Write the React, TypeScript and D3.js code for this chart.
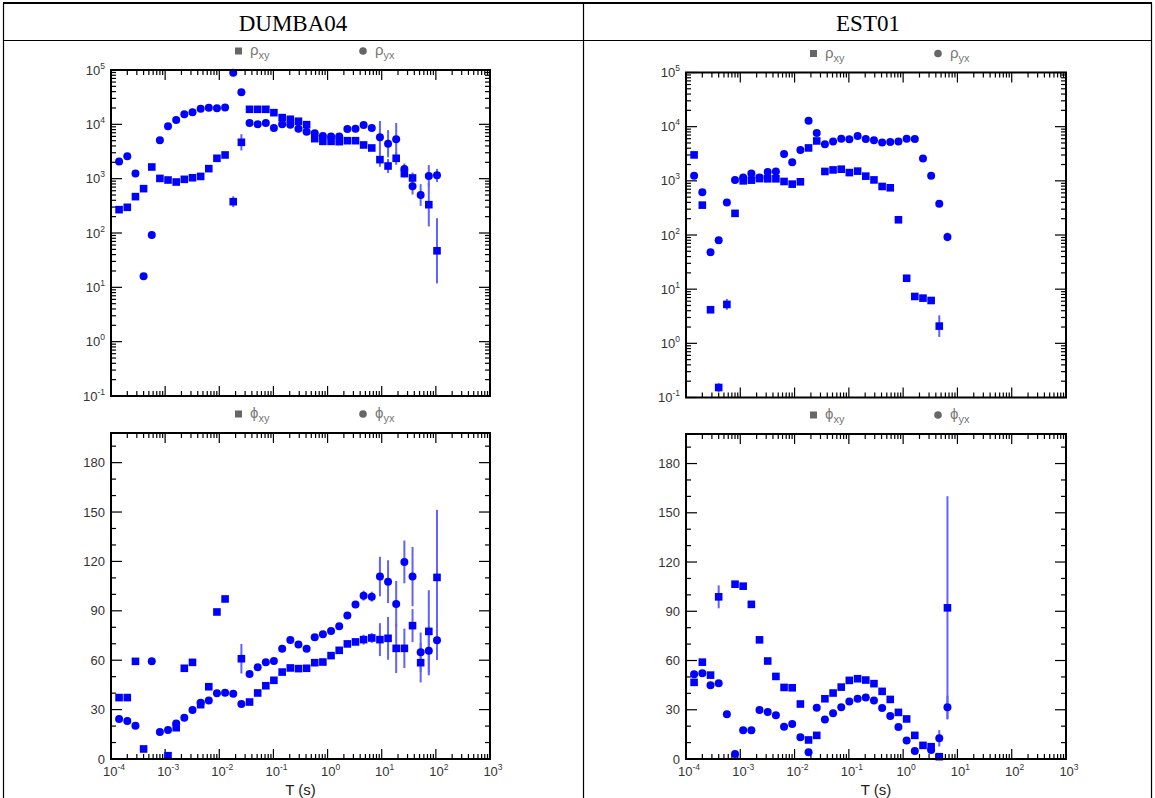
import React, { useEffect, useRef } from 'react';
import * as d3 from 'd3';

// periods (s) of the sounding, shared by both stations
const periods = [
  1.41e-4, 2.0e-4, 2.83e-4, 4.0e-4, 5.66e-4, 8.0e-4, 1.13e-3, 1.6e-3, 2.26e-3, 3.2e-3,
  4.53e-3, 6.4e-3, 9.05e-3, 1.28e-2, 1.81e-2, 2.56e-2, 3.62e-2, 5.12e-2, 7.24e-2, 0.102,
  0.145, 0.205, 0.29, 0.41, 0.579, 0.819, 1.16, 1.64, 2.32, 3.28,
  4.63, 6.55, 9.27, 13.1, 18.5, 26.2, 37.1, 52.4, 74.1, 105,
];

// DUMBA04
const dumbaRhoXy = [
  269, 297, 467, 655, 1640, 1010, 945, 868, 972, 1040,
  1100, 1530, 2370, 2730, 377, 4670, 18900, 18900, 18900, 16400,
  13300, 12400, 11400, 9860, 5450, 4860, 4860, 4800, 5000, 5000,
  4170, 3670, 2240, 1710, 2370, 1240, 1030, null, 332, 47,
];
const dumbaRhoYx = [
  2080, 2580, 1250, 16, 92, 5080, 9200, 12000, 15300, 16600,
  19400, 20300, 19700, 20500, 89000, 38800, 10600, 10000, 10600, 8570,
  10000, 9860, 8320, 7330, 6830, 6100, 6000, 6000, 8210, 8320,
  9720, 8570, 5770, 4400, 5300, 1510, 723, 500, 1120, 1150,
];
// error half-widths in decades
const dumbaRhoXyErr = [
  0, 0, 0, 0, 0, 0, 0, 0, 0, 0,
  0, 0, 0, 0, 0.1, 0.15, 0, 0, 0, 0,
  0, 0, 0, 0, 0, 0, 0, 0, 0, 0,
  0, 0, 0.13, 0.13, 0.12, 0.07, 0.1, 0, 0.4, 0.6,
];
const dumbaRhoYxErr = [
  0, 0, 0, 0, 0, 0, 0, 0, 0, 0,
  0, 0, 0, 0, 0, 0, 0, 0, 0, 0,
  0, 0, 0, 0, 0, 0, 0, 0, 0, 0,
  0.04, 0.04, 0.3, 0.25, 0.3, 0.1, 0.15, 0.2, 0.2, 0.12,
];
const dumbaPhiXy = [
  37.3, 37.3, 59.3, 6.1, null, null, 2.0, 19, 55.1, 58.7,
  33, 43.9, 89.3, 97.2, null, 60.9, 34.6, 40.1, 44.5, 47.8,
  52.8, 55.3, 54.9, 55.1, 58.5, 58.9, 62.8, 66.0, 69.9, 71.1,
  72.5, 73.5, 72.5, 73.3, 67.2, 67.2, 81.0, 58.5, 77.5, 110.3,
];
const dumbaPhiYx = [
  24.3, 23.1, 20.2, null, 59.3, 16.4, 17.6, 21.5, 25.1, 29.8,
  34.2, 35.6, 39.9, 40.3, 39.7, 33.4, 51.6, 55.7, 58.7, 59.5,
  67.0, 72.3, 69.6, 67.0, 73.9, 75.7, 77.7, 80.6, 87.1, 93.9,
  99.2, 98.6, 110.8, 107.7, 94.1, 119.7, 110.8, 64.8, 65.8, 72.1,
];
// error half-widths in degrees
const dumbaPhiXyErr = [
  0, 0, 0, 0, 0, 0, 0, 0, 0, 0,
  0, 0, 0, 0, 0, 9, 0, 0, 0, 0,
  0, 0, 0, 0, 0, 0, 0, 0, 0, 0,
  3, 3, 10, 13, 15, 12, 10, 12, 25, 41,
];
const dumbaPhiYxErr = [
  0, 0, 0, 0, 0, 0, 0, 0, 0, 0,
  0, 0, 0, 0, 0, 0, 0, 0, 0, 0,
  0, 0, 0, 0, 0, 0, 0, 0, 2, 2,
  3, 3, 12, 13, 14, 13, 18, 12, 15, 12,
];

// EST01 (first 32 periods)
const estRhoXy = [
  3010, 356, 4.17, 0.153, 5.23, 251, 1000, 1030, 1100, 1090,
  1090, 973, 869, 960, 4050, 5450, 1490, 1590, 1640, 1420,
  1510, 1220, 1040, 787, 744, 191, 15.9, 7.33, 6.83, 6.18,
  2.08, null,
];
const estRhoYx = [
  1240, 618, 48, 80, 399, 1040, 1150, 1360, 1150, 1450,
  1490, 3140, 2210, 3720, 12900, 7640, 4730, 5300, 6010, 5840,
  6730, 5930, 5600, 5080, 5230, 5300, 6010, 5930, 2580, 1240,
  377, 92,
];
const estRhoXyErr = [
  0, 0, 0, 0.08, 0.1, 0, 0, 0, 0, 0,
  0, 0, 0, 0, 0, 0, 0, 0, 0, 0,
  0, 0, 0, 0, 0, 0, 0, 0, 0, 0,
  0.2, 0,
];
const estRhoYxErr = [
  0, 0, 0, 0, 0, 0, 0, 0, 0, 0,
  0, 0, 0, 0, 0, 0, 0, 0, 0, 0,
  0, 0, 0, 0, 0, 0, 0, 0, 0, 0,
  0, 0.08,
];
const estPhiXy = [
  46.7, 59.0, 51.1, 98.8, null, 106.5, 105.3, 94.2, 72.6, 59.7,
  50.3, 43.6, 43.4, 33.5, 11.6, 14.4, 36.7, 40.2, 43.8, 47.9,
  48.9, 48.1, 45.9, 41.2, 36.3, 28.4, 24.4, 14.4, 8.3, 7.5,
  1.4, 92.1,
];
const estPhiYx = [
  51.7, 52.2, 45.0, 46.1, 27.2, 3.0, 17.5, 17.5, 29.8, 28.6,
  26.6, 19.7, 21.3, 13.2, 4.1, 31.2, 24.1, 27.8, 31.5, 35.1,
  36.7, 37.5, 35.7, 31.0, 26.2, 19.5, 11.2, 4.9, null, 5.5,
  12.6, 31.5,
];
const estPhiXyErr = [
  0, 0, 0, 7, 0, 0, 0, 0, 0, 0,
  0, 0, 0, 0, 0, 0, 0, 0, 0, 0,
  0, 0, 0, 0, 0, 0, 0, 0, 2, 2,
  0, 68,
];
const estPhiYxErr = [
  0, 0, 0, 0, 0, 0, 0, 0, 0, 0,
  0, 0, 0, 0, 0, 0, 0, 0, 0, 0,
  0, 0, 0, 0, 0, 0, 0, 0, 0, 0,
  5, 7,
];

const stations = ['DUMBA04', 'EST01'];

const W = 1155;
const H = 798;
const BLUE = '#0000ff';
const ERR = '#4747ff';

function drawPanel(svg, p) {
  const x = d3.scaleLog().domain([1e-4, 1e3]).range([p.left, p.right]);
  const y = p.kind === 'rho'
    ? d3.scaleLog().domain([0.1, 1e5]).range([p.bottom, p.top])
    : d3.scaleLinear().domain([0, 198]).range([p.bottom, p.top]);

  const g = svg.append('g');
  const isDecade = (t) => Math.abs(Math.log10(t) - Math.round(Math.log10(t))) < 1e-6;

  // x ticks, bottom and top, pointing inward
  const xt = x.ticks();
  xt.forEach((t) => {
    const len = isDecade(t) ? 10 : 5;
    const px = x(t);
    g.append('line').attr('x1', px).attr('x2', px).attr('y1', p.bottom).attr('y2', p.bottom - len)
      .attr('stroke', '#000').attr('stroke-width', 1.2);
    g.append('line').attr('x1', px).attr('x2', px).attr('y1', p.top).attr('y2', p.top + len)
      .attr('stroke', '#000').attr('stroke-width', 1.2);
  });

  // y ticks, left and right
  let yt, yMajor;
  if (p.kind === 'rho') {
    yt = y.ticks();
    yMajor = isDecade;
  } else {
    yt = d3.range(0, 191, 10);
    yMajor = (t) => t % 30 === 0;
  }
  yt.forEach((t) => {
    const len = yMajor(t) ? 11 : 5;
    const py = y(t);
    g.append('line').attr('x1', p.left).attr('x2', p.left + len).attr('y1', py).attr('y2', py)
      .attr('stroke', '#000').attr('stroke-width', 1.2);
    g.append('line').attr('x1', p.right).attr('x2', p.right - len).attr('y1', py).attr('y2', py)
      .attr('stroke', '#000').attr('stroke-width', 1.2);
  });

  // y labels
  const labFont = "'Liberation Sans', Arial, sans-serif";
  yt.filter(yMajor).forEach((t) => {
    const txt = g.append('text').attr('x', p.left - 6).attr('y', y(t) + 4.5)
      .attr('text-anchor', 'end').attr('font-family', labFont).attr('font-size', 13).attr('fill', '#333');
    if (p.kind === 'rho') {
      const e = Math.round(Math.log10(t));
      txt.append('tspan').text('10');
      txt.append('tspan').attr('dy', -6).attr('font-size', 8.5).text(e < 0 ? '-' + (-e) : String(e));
    } else {
      txt.text(String(t));
    }
  });

  // x labels, only on the phase panel
  if (p.kind === 'phi') {
    xt.filter(isDecade).forEach((t) => {
      const e = Math.round(Math.log10(t));
      const txt = g.append('text').attr('x', x(t) + 3).attr('y', 776)
        .attr('text-anchor', 'middle').attr('font-family', labFont).attr('font-size', 13).attr('fill', '#333');
      txt.append('tspan').text('10');
      txt.append('tspan').attr('dy', -6).attr('font-size', 8.5).text(e < 0 ? '-' + (-e) : String(e));
    });
    g.append('text').attr('x', (p.left + p.right) / 2).attr('y', 795).attr('text-anchor', 'middle')
      .attr('font-family', labFont).attr('font-size', 15).attr('fill', '#222').text('T (s)');
  }

  // legend
  const sym = p.kind === 'rho' ? 'ρ' : 'ϕ';
  const ly = p.top - 19;
  g.append('rect').attr('x', p.left + 124).attr('y', ly - 3.5).attr('width', 7).attr('height', 7).attr('fill', '#666');
  const t1 = g.append('text').attr('x', p.left + 139).attr('y', ly + 4)
    .attr('font-family', labFont).attr('font-size', 15).attr('fill', '#777');
  t1.append('tspan').text(sym);
  t1.append('tspan').attr('dy', 4).attr('font-size', 11).text('xy');
  g.append('circle').attr('cx', p.left + 252).attr('cy', ly).attr('r', 3.8).attr('fill', '#666');
  const t2 = g.append('text').attr('x', p.left + 264).attr('y', ly + 4)
    .attr('font-family', labFont).attr('font-size', 15).attr('fill', '#777');
  t2.append('tspan').text(sym);
  t2.append('tspan').attr('dy', 4).attr('font-size', 11).text('yx');

  // data
  const pts = (vals, errs) => vals.map((v, i) => ({ t: periods[i], v, e: errs[i] })).filter((d) => d.v != null);
  const xy = pts(p.xy, p.xyErr);
  const yx = pts(p.yx, p.yxErr);

  const lo = (d) => (p.kind === 'rho' ? d.v / Math.pow(10, d.e) : Math.max(0, d.v - d.e));
  const hi = (d) => (p.kind === 'rho' ? d.v * Math.pow(10, d.e) : d.v + d.e);

  const errG = g.append('g').attr('stroke', ERR).attr('stroke-width', 2).attr('opacity', 0.85);
  [...xy, ...yx].filter((d) => d.e > 0).forEach((d) => {
    errG.append('line').attr('x1', x(d.t)).attr('x2', x(d.t)).attr('y1', y(lo(d))).attr('y2', y(hi(d)));
  });

  g.append('g').selectAll('rect').data(xy).enter().append('rect')
    .attr('x', (d) => x(d.t) - 3.8).attr('y', (d) => y(d.v) - 3.8)
    .attr('width', 7.6).attr('height', 7.6).attr('fill', BLUE);
  g.append('g').selectAll('circle').data(yx).enter().append('circle')
    .attr('cx', (d) => x(d.t)).attr('cy', (d) => y(d.v)).attr('r', 4).attr('fill', BLUE);

  // frame
  g.append('rect').attr('x', p.left).attr('y', p.top).attr('width', p.right - p.left).attr('height', p.bottom - p.top)
    .attr('fill', 'none').attr('stroke', '#000').attr('stroke-width', 2);
}

export default function App() {
  const ref = useRef(null);

  useEffect(() => {
    const svg = d3.select(ref.current);
    svg.selectAll('*').remove();

    // table
    const tbl = svg.append('g').attr('stroke', '#000').attr('stroke-width', 1.2);
    tbl.append('line').attr('x1', 3).attr('x2', 1152).attr('y1', 3).attr('y2', 3).attr('stroke-width', 2);
    tbl.append('line').attr('x1', 3).attr('x2', 1152).attr('y1', 40.5).attr('y2', 40.5);
    tbl.append('line').attr('x1', 3.5).attr('x2', 3.5).attr('y1', 3).attr('y2', H);
    tbl.append('line').attr('x1', 583.5).attr('x2', 583.5).attr('y1', 3).attr('y2', H);
    tbl.append('line').attr('x1', 1151.5).attr('x2', 1151.5).attr('y1', 3).attr('y2', H);

    [293, 868].forEach((cx, i) => {
      svg.append('text').attr('x', cx).attr('y', 31).attr('text-anchor', 'middle')
        .attr('font-family', "'Liberation Serif', 'Times New Roman', serif").attr('font-size', 23)
        .attr('fill', '#000').text(stations[i]);
    });

    const panels = [
      { kind: 'rho', left: 111, right: 490, top: 70, bottom: 396, xy: dumbaRhoXy, yx: dumbaRhoYx, xyErr: dumbaRhoXyErr, yxErr: dumbaRhoYxErr },
      { kind: 'phi', left: 111, right: 490, top: 433, bottom: 759, xy: dumbaPhiXy, yx: dumbaPhiYx, xyErr: dumbaPhiXyErr, yxErr: dumbaPhiYxErr },
      { kind: 'rho', left: 686, right: 1066, top: 72.5, bottom: 397.5, xy: estRhoXy, yx: estRhoYx, xyErr: estRhoXyErr, yxErr: estRhoYxErr },
      { kind: 'phi', left: 686, right: 1066, top: 434, bottom: 759, xy: estPhiXy, yx: estPhiYx, xyErr: estPhiXyErr, yxErr: estPhiYxErr },
    ];
    panels.forEach((p) => drawPanel(svg, p));
  }, []);

  return (
    <div style={{ position: 'absolute', left: 0, top: 0, background: '#fff' }}>
      <svg ref={ref} width={W} height={H} style={{ display: 'block' }} />
    </div>
  );
}
